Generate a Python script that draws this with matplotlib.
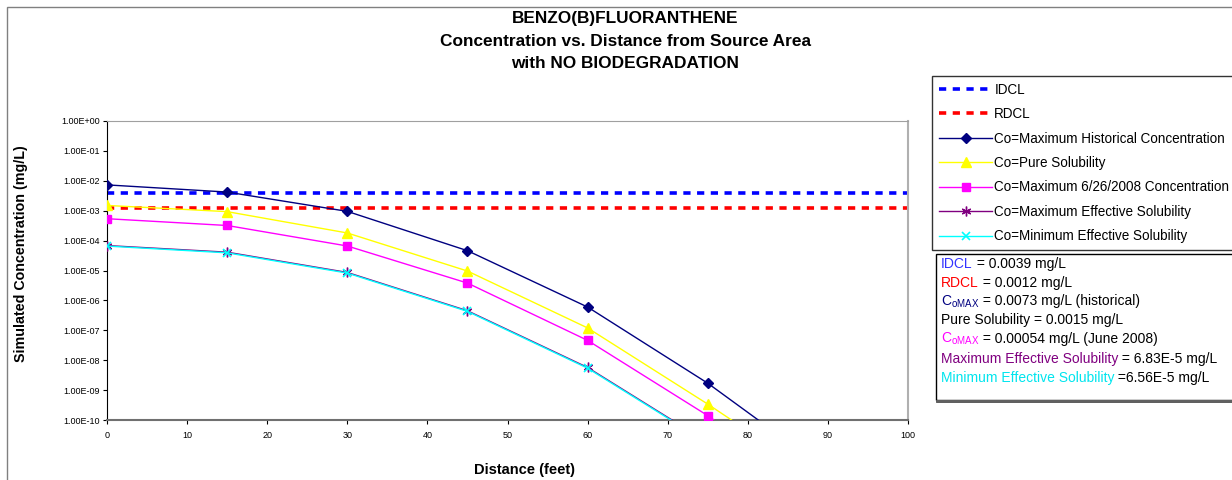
import matplotlib
matplotlib.use("Agg")
import matplotlib.pyplot as plt
from matplotlib.patches import Rectangle
from matplotlib.ticker import FixedLocator, FuncFormatter

plt.rcParams["font.family"] = ["Liberation Sans", "DejaVu Sans"]
plt.rcParams["mathtext.fontset"] = "custom"
plt.rcParams["mathtext.rm"] = "Liberation Sans"
plt.rcParams["mathtext.it"] = "Liberation Sans"

# data (mg/L vs feet)
distance = [0, 15, 30, 45, 60, 75, 90]
hist_max = [7.3e-3, 4.2e-3, 9.5e-4, 4.6e-5, 6.0e-7, 1.7e-9, 2.0e-12]
pure_sol = [1.5e-3, 9.3e-4, 1.8e-4, 9.6e-6, 1.2e-7, 3.4e-10, 7.0e-13]
max_2008 = [5.4e-4, 3.2e-4, 6.6e-5, 3.8e-6, 4.6e-8, 1.4e-10, 2.0e-13]
max_eff = [6.83e-5, 4.1e-5, 8.6e-6, 4.5e-7, 5.7e-9, 1.8e-11, 4.0e-14]
min_eff = [6.56e-5, 3.9e-5, 8.2e-6, 4.3e-7, 5.4e-9, 1.7e-11, 3.8e-14]
idcl = 0.0039
rdcl = 0.0012
limit_x = [0, 100]

W, H = 1232, 480
fig = plt.figure(figsize=(W / 100, H / 100), dpi=100)
ax = fig.add_axes([107 / W, 1 - 420 / H, (908 - 107) / W, (420 - 121) / H])

# outer chart frame
fig.add_artist(Rectangle((7 / W, -0.2), 2, 1 - 7 / H + 0.2, transform=fig.transFigure,
                         fill=False, ec="#808080", lw=1))

l_idcl, = ax.plot(limit_x, [idcl, idcl], color="#0000FF", lw=2.6, dashes=(2, 1.8),
                  dash_capstyle="butt", clip_on=False, zorder=2)
l_rdcl, = ax.plot(limit_x, [rdcl, rdcl], color="#FF0000", lw=2.6, dashes=(2, 1.8),
                  dash_capstyle="butt", clip_on=False, zorder=2)
l_hist, = ax.plot(distance, hist_max, color="#000080", lw=1, marker="D", ms=5.5, zorder=3)
l_pure, = ax.plot(distance, pure_sol, color="#FFFF00", lw=1, marker="^", ms=6.5, zorder=3)
l_mag, = ax.plot(distance, max_2008, color="#FF00FF", lw=1, marker="s", ms=5.5, zorder=3)
l_max, = ax.plot(distance, max_eff, color="#800080", lw=1, marker=(6, 2, 0), ms=7,
                 mew=1, zorder=3)
l_min, = ax.plot(distance, min_eff, color="#00FFFF", lw=1, marker="x", ms=6, mew=1.2, zorder=3)

ax.set_yscale("log")
ax.set_ylim(1e-10, 1)
ax.set_xlim(0, 100)
ax.yaxis.set_major_locator(FixedLocator([10.0 ** -k for k in range(11)]))
ax.yaxis.set_minor_locator(FixedLocator([]))
ax.yaxis.set_major_formatter(FuncFormatter(lambda v, p: f"{v:.2E}"))
ax.set_xticks(range(0, 101, 10))
ax.tick_params(axis="both", labelsize=6.5, length=3, width=0.8, pad=2)
ax.tick_params(axis="x", pad=5)
ax.spines["left"].set_color("black")
ax.spines["bottom"].set_color("#707070")
ax.spines["bottom"].set_linewidth(1.5)
ax.spines["top"].set_color("#a0a0a0")
ax.spines["right"].set_color("#b0b0b0")
ax.spines["right"].set_linewidth(1.5)

fig.text(524 / W, 1 - 470 / H, "Distance (feet)", ha="center", va="center",
         fontsize=10.5, fontweight="bold")
fig.text(21 / W, 1 - 254 / H, "Simulated Concentration (mg/L)", ha="center", va="center",
         rotation=90, fontsize=10.3, fontweight="bold")

fig.text(625 / W, 1 - 18 / H, "BENZO(B)FLUORANTHENE", ha="center", va="center",
         fontsize=12.4, fontweight="bold")
fig.text(625 / W, 1 - 42 / H, "Concentration vs. Distance from Source Area", ha="center",
         va="center", fontsize=12.4, fontweight="bold")
fig.text(625 / W, 1 - 64 / H, "with NO BIODEGRADATION", ha="center", va="center",
         fontsize=12.4, fontweight="bold")

handles = [l_idcl, l_rdcl, l_hist, l_pure, l_mag, l_max, l_min]
labels = ["IDCL", "RDCL", "Co=Maximum Historical Concentration", "Co=Pure Solubility",
          "Co=Maximum 6/26/2008 Concentration", "Co=Maximum Effective Solubility",
          "Co=Minimum Effective Solubility"]
leg = fig.legend(handles, labels, loc="upper left", bbox_to_anchor=(932 / W, 1 - 76 / H),
                 fontsize=9.75, frameon=True, fancybox=False, edgecolor="black",
                 handlelength=3.95, handletextpad=0.15, labelspacing=0.77,
                 borderpad=0.5, borderaxespad=0)
leg.get_frame().set_linewidth(1)

# info box
fig.add_artist(Rectangle((936 / W, 1 - 400 / H), 0.5, (400 - 254) / H,
                         transform=fig.transFigure, fill=False, ec="black", lw=1))
fig.add_artist(Rectangle((936 / W, 1 - 401 / H), 0.5, 0.0001,
                         transform=fig.transFigure, fill=False, ec="#606060", lw=2))

info = [
    [("IDCL", "#3333FF"), (" = 0.0039 mg/L", "black")],
    [("RDCL", "#FF0000"), (" = 0.0012 mg/L", "black")],
    [(r"C$_{\mathrm{oMAX}}$", "#000080"), (" = 0.0073 mg/L (historical)", "black")],
    [("Pure Solubility = 0.0015 mg/L", "black")],
    [(r"C$_{\mathrm{oMAX}}$", "#FF00FF"), (" = 0.00054 mg/L (June 2008)", "black")],
    [("Maximum Effective Solubility", "#800080"), (" = 6.83E-5 mg/L", "black")],
    [("Minimum Effective Solubility", "#00E5EE"), (" =6.56E-5 mg/L", "black")],
]
baselines = [268, 287, 305.5, 324, 343, 363, 382]
for pieces, yb in zip(info, baselines):
    yf = 1 - yb / H
    t = fig.text(941 / W, yf, pieces[0][0], color=pieces[0][1], fontsize=10, va="baseline")
    for s, c in pieces[1:]:
        t = ax.annotate(s, xy=(1, yf), xycoords=(t, fig.transFigure), va="baseline",
                        color=c, fontsize=10, annotation_clip=False)

fig.savefig("out.png", dpi=100)
